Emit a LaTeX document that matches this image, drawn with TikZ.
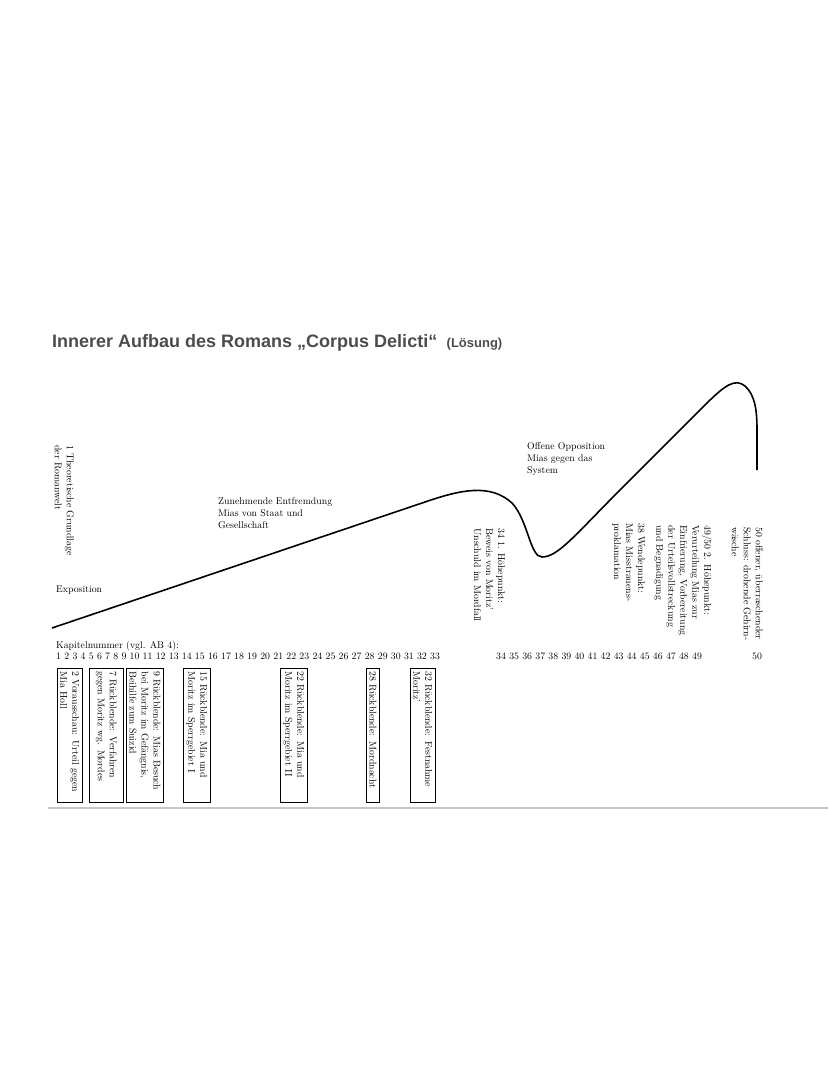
\documentclass[tikz,border=0pt]{standalone}
\usepackage{fontspec}
\newfontfamily\titlefont{Liberation Sans}
\usetikzlibrary{positioning}
\definecolor{titlegray}{gray}{0.30}

\begin{document}
\begin{tikzpicture}[x=1pt,y=-1pt,
  lbl/.style={anchor=north west,align=left,inner sep=0pt,font=\fontsize{9.8}{12}\selectfont},
  vlbl/.style={lbl,rotate=-90},
  kapbox/.style={draw,semithick,rotate=-90,anchor=south west,align=left,inner sep=3pt,text width=128pt,font=\fontsize{9.8}{12}\selectfont}]
\useasboundingbox (0,0) rectangle (828,1071);
% title
\node[anchor=base west,inner sep=0pt,text=titlegray,font=\titlefont\bfseries\fontsize{18}{20}\selectfont] (title) at (52,347) {Innerer Aufbau des Romans „Corpus Delicti“};
\node[anchor=base west,inner sep=0pt,text=titlegray,font=\titlefont\bfseries\fontsize{13}{15}\selectfont] (loesung) at ([xshift=9pt]title.base east) {(Lösung)};
% curve
\coordinate (S) at (52,628);
\coordinate (H1) at (425,502);
\coordinate (T) at (542,557);
\coordinate (W) at (620,490);
\coordinate (H2) at (705,405);
\coordinate (E) at (757,470);
\draw[line width=1.6pt] (S) -- (H1) .. controls (460,490) and (490,483) .. (512,503)
  .. controls (528,520) and (530,557) .. (T) .. controls (558,557) and (575,535) .. (W)
  -- (H2) .. controls (725,385) and (735,378) .. (745,386)
  .. controls (755,395) and (757,410) .. (757,430) -- (E);
% labels at the curve
\node[vlbl] (grundlage) at (74,445) {1 Theoretische Grundlage\\der Romanwelt};
\node[lbl] (expo) at (56,586) {Exposition};
\node[lbl] (entfremdung) at (218,497) {Zunehmende Entfremdung\\Mias von Staat und\\Gesellschaft};
\node[lbl] (opposition) at (527,442) {Offene Opposition\\Mias gegen das\\System};
\node[vlbl] (hoehe1) at (505,528) {34 1. Höhepunkt:\\Beweis von Moritz’\\Unschuld im Mordfall};
\node[vlbl] (wende) at (645,523) {38 Wendepunkt:\\Mias Misstrauens-\\proklamation};
\node[vlbl] (hoehe2) at (712,525) {49/50 2. Höhepunkt:\\Verurteilung Mias zur\\Einfrierung, Vorbereitung\\der Urteilsvollstreckung\\und Begnadigung};
\node[vlbl] (schluss) at (763,527) {50 offener, überraschender\\Schluss: drohende Gehirn-\\wäsche};
% chapter numbers
\node[lbl] (kapitel) at (56,641) {Kapitelnummer (vgl. AB 4):};
\node[lbl] (nr1) at (56,653) {1 2 3 4 5 6 7 8 9 10 11 12 13 14 15 16 17 18 19 20 21 22 23 24 25 26 27 28 29 30 31 32 33};
\node[lbl] (nr2) at (496,653) {34 35 36 37 38 39 40 41 42 43 44 45 46 47 48 49};
\node[lbl] (nr3) at (752,653) {50};
% boxes
\node[kapbox] (k2) at (57,668) {2 Vorausschau: Urteil gegen\\Mia Holl};
\node[kapbox,minimum height=34pt] (k7) at (89,668) {7 Rückblende: Verfahren\\gegen Moritz wg. Mordes};
\node[kapbox] (k9) at (126,668) {9 Rückblende: Mias Besuch\\bei Moritz im Gefängnis,\\Beihilfe zum Suizid};
\node[kapbox] (k15) at (183,668) {15 Rückblende: Mia und\\Moritz im Sperrgebiet I};
\node[kapbox] (k22) at (280,668) {22 Rückblende: Mia und\\Moritz im Sperrgebiet II};
\node[kapbox] (k28) at (366,668) {28 Rückblende: Mordnacht};
\node[kapbox] (k32) at (410,668) {32 Rückblende: Festnahme\\Moritz’};
% paper edge
\draw[black!22,line width=1.2pt] (48,808) -- (828,808);
\end{tikzpicture}
\end{document}
